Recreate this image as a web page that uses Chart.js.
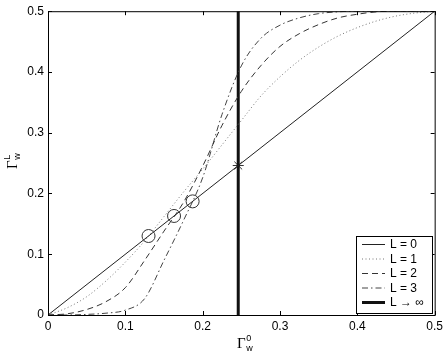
<!DOCTYPE html>
<html>
<head>
<meta charset="utf-8">
<script src="https://cdn.jsdelivr.net/npm/chart.js@4"></script>
<style>
  body { margin: 0; background: #fff; }
  canvas { display: block; }
</style>
</head>
<body>
<canvas id="grafica" width="447" height="356"></canvas>
<script>
// ===============================
// DATOS
// ===============================
const gx = [0, 0.025, 0.05, 0.075, 0.1, 0.125, 0.15, 0.175, 0.2, 0.225, 0.25,
            0.275, 0.3, 0.325, 0.35, 0.375, 0.4, 0.425, 0.45, 0.475, 0.5];
const l1 = [0, 0.012, 0.030, 0.056, 0.087, 0.122, 0.162, 0.202, 0.240, 0.280, 0.320,
            0.360, 0.392, 0.419, 0.441, 0.459, 0.473, 0.484, 0.492, 0.497, 0.5];
const l2 = [0, 0.002, 0.009, 0.022, 0.045, 0.090, 0.138, 0.185, 0.245, 0.312, 0.368,
            0.410, 0.442, 0.463, 0.478, 0.489, 0.495, 0.499, 0.5, 0.5, 0.5];
const l3 = [0, 0, 0.001, 0.003, 0.008, 0.027, 0.090, 0.155, 0.226, 0.330, 0.410,
            0.455, 0.477, 0.489, 0.496, 0.499, 0.5, 0.5, 0.5, 0.5, 0.5];
const l0x = [0, 0.5];
const l0y = [0, 0.5];
const limX = [0.246, 0.246];
const limY = [0, 0.5];
const fijos = [0.13, 0.163, 0.187];   // círculos sobre la diagonal
const estrella = [0.246, 0.246];
const ticks = [0, 0.1, 0.2, 0.3, 0.4, 0.5];

const pts = (xs, ys) => xs.map((x, i) => ({ x, y: ys[i] }));

const ctx = document.getElementById("grafica").getContext("2d");

// ===============================
// UTIL: Γ con sub/superíndice
// ===============================
function gamma(c, x, y, sup, sub) {
  c.fillStyle = "#000";
  c.textAlign = "left";
  c.textBaseline = "alphabetic";
  c.font = '15px "Liberation Serif"';
  c.fillText("Γ", x, y);
  const w = c.measureText("Γ").width;
  c.font = '9px "Liberation Sans"';
  c.fillText(sup, x + w + 0.5, y - 7);
  c.fillText(sub, x + w + 0.5, y + 3);
}

// ===============================
// MARCO, TICKS, TÍTULOS, LEYENDA
// ===============================
const marco = {
  id: "marco",
  afterDraw(chart) {
    const c = chart.ctx;
    const a = chart.chartArea;
    const sx = chart.scales.x, sy = chart.scales.y;
    c.save();
    c.strokeStyle = "#000";
    c.lineWidth = 1;
    c.strokeRect(a.left + 0.5, a.top + 0.5, a.right - a.left, a.bottom - a.top);
    c.beginPath();
    ticks.forEach(t => {
      const px = Math.round(sx.getPixelForValue(t)) + 0.5;
      c.moveTo(px, a.bottom); c.lineTo(px, a.bottom - 4);
      c.moveTo(px, a.top); c.lineTo(px, a.top + 4);
      const py = Math.round(sy.getPixelForValue(t)) + 0.5;
      c.moveTo(a.left, py); c.lineTo(a.left + 4, py);
      c.moveTo(a.right, py); c.lineTo(a.right - 4, py);
    });
    c.stroke();

    // títulos de ejes
    gamma(c, 237, 348, "0", "w");
    c.save();
    c.translate(17, 169);
    c.rotate(-Math.PI / 2);
    gamma(c, 0, 0, "L", "w");
    c.restore();

    // leyenda
    const lx = 356.5, ly = 236.5, lw = 76, lh = 77;
    c.fillStyle = "#fff";
    c.fillRect(lx, ly, lw, lh);
    c.strokeStyle = "#000";
    c.strokeRect(lx, ly, lw, lh);
    const filas = [244.5, 259, 273.5, 288, 302.5];
    chart.data.datasets.slice(0, 5).forEach((d, i) => {
      const y = filas[i];
      c.beginPath();
      c.strokeStyle = d.borderColor;
      c.lineWidth = d.borderWidth;
      c.setLineDash(d.borderDash || []);
      c.moveTo(362, y); c.lineTo(385, y);
      c.stroke();
      c.setLineDash([]);
      c.fillStyle = "#000";
      c.font = '12px "Liberation Sans"';
      c.textBaseline = "middle";
      c.fillText(d.label, 390, y + 0.5);
    });
    c.restore();
  }
};

const fmt = v => (v === 0 ? "0" : v.toFixed(1));

new Chart(ctx, {
  type: "scatter",
  data: {
    datasets: [
      { label: "L = 0", data: pts(l0x, l0y), showLine: true, borderColor: "#222",
        borderWidth: 1, pointRadius: 0 },
      { label: "L = 1", data: pts(gx, l1), showLine: true, borderColor: "#777",
        borderWidth: 1, borderDash: [1, 2.5], pointRadius: 0, cubicInterpolationMode: "monotone" },
      { label: "L = 2", data: pts(gx, l2), showLine: true, borderColor: "#333",
        borderWidth: 1, borderDash: [6, 4], pointRadius: 0, cubicInterpolationMode: "monotone" },
      { label: "L = 3", data: pts(gx, l3), showLine: true, borderColor: "#444",
        borderWidth: 1, borderDash: [6, 3, 1.5, 3], pointRadius: 0, cubicInterpolationMode: "monotone" },
      { label: "L → ∞", data: pts(limX, limY), showLine: true, borderColor: "#111",
        borderWidth: 3, pointRadius: 0 },
      { label: "fijos", data: pts(fijos, fijos), showLine: false, pointStyle: "circle",
        pointRadius: 6.5, borderColor: "#333", borderWidth: 1, backgroundColor: "rgba(0,0,0,0)" },
      { label: "estrella", data: pts([estrella[0]], [estrella[1]]), showLine: false,
        pointStyle: "star", pointRadius: 5.5, borderColor: "#333", borderWidth: 1 }
    ]
  },
  options: {
    responsive: false,
    animation: false,
    devicePixelRatio: 1,
    layout: { padding: { left: 0, right: 12, top: 10, bottom: 0 } },
    plugins: { legend: { display: false }, tooltip: { enabled: false } },
    scales: {
      x: {
        type: "linear", min: 0, max: 0.5,
        ticks: { stepSize: 0.1, color: "#000", padding: 4, maxRotation: 0,
                 font: { family: "Liberation Sans", size: 12 }, callback: fmt },
        grid: { display: false, drawTicks: false },
        border: { display: false },
        afterFit(s) { s.height = 41; }
      },
      y: {
        type: "linear", min: 0, max: 0.5,
        ticks: { stepSize: 0.1, color: "#000", padding: 4,
                 font: { family: "Liberation Sans", size: 12 }, callback: fmt },
        grid: { display: false, drawTicks: false },
        border: { display: false },
        afterFit(s) { s.width = 48; }
      }
    }
  },
  plugins: [marco]
});
</script>
</body>
</html>
